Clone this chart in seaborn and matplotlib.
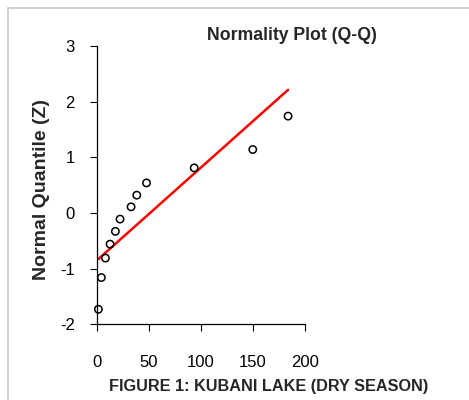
import numpy as np
import pandas as pd
import matplotlib
matplotlib.use("Agg")
import matplotlib.pyplot as plt
import seaborn as sns
from matplotlib.patches import Rectangle

# ===========================
# DATA
# ===========================

concentration = [1.35, 4.2, 8.1, 12.6, 17.7, 22.2, 32.8, 38.3, 47.7, 93.6, 150.0, 184.0]
normal_quantile = [-1.73, -1.16, -0.81, -0.56, -0.33, -0.11, 0.11, 0.32, 0.54, 0.81, 1.14, 1.74]
x_ticks = [0, 50, 100, 150, 200]
y_ticks = [-2, -1, 0, 1, 2, 3]

df = pd.DataFrame({"x": concentration, "z": normal_quantile})

# reference line: z = (x - mean) / sd
mean_x = df["x"].mean()
sd_x = df["x"].std(ddof=1)
line_df = pd.DataFrame({"x": [df["x"].min(), df["x"].max()]})
line_df["z"] = (line_df["x"] - mean_x) / sd_x

# ===========================
# PLOT
# ===========================

sns.set_style("ticks")
plt.rcParams["font.family"] = ["Liberation Sans", "DejaVu Sans"]
plt.rcParams["axes.unicode_minus"] = False

fig = plt.figure(figsize=(4.69, 4.0), dpi=100)
fig.patches.append(Rectangle((8 / 469, -0.1), 1.2, 1.1 - 8 / 400, transform=fig.transFigure,
                             fill=False, edgecolor="#c8c8c8", linewidth=1.2))
ax = fig.add_axes([97 / 469, 1 - 324.3 / 400, (304.7 - 97) / 469, (324.3 - 46) / 400])

sns.lineplot(data=line_df, x="x", y="z", ax=ax, color="#ff0000", linewidth=1.8)
sns.scatterplot(data=df, x="x", y="z", ax=ax, marker="o", s=28,
                facecolor="none", edgecolor="black", linewidth=1.1, zorder=3, clip_on=False)

ax.set_xlim(0, 200)
ax.set_ylim(-2, 3)
ax.set_xticks(x_ticks)
ax.set_yticks(y_ticks)
ax.tick_params(axis="both", direction="out", length=5, width=0.8, labelsize=12, colors="black")
ax.tick_params(axis="x", pad=17)
ax.tick_params(axis="y", pad=11)
for side in ["top", "right"]:
    ax.spines[side].set_visible(False)
for side in ["left", "bottom"]:
    ax.spines[side].set_color("black")
    ax.spines[side].set_linewidth(0.9)

ax.set_xlabel("")
ax.set_ylabel("Normal Quantile (Z)", fontsize=14, fontweight="bold", va="center")
ax.yaxis.set_label_coords((42 - 97) / 207.7, (324.3 - 189) / 278.3)

fig.text(292 / 469, 1 - 35 / 400, "Normality Plot (Q-Q)", ha="center", va="center",
         fontsize=12.7, fontweight="bold")
fig.text(269 / 469, 1 - 387 / 400, "FIGURE 1: KUBANI LAKE (DRY SEASON)", ha="center", va="center",
         fontsize=11.7, fontweight="bold")

fig.savefig("out.png", dpi=100)
